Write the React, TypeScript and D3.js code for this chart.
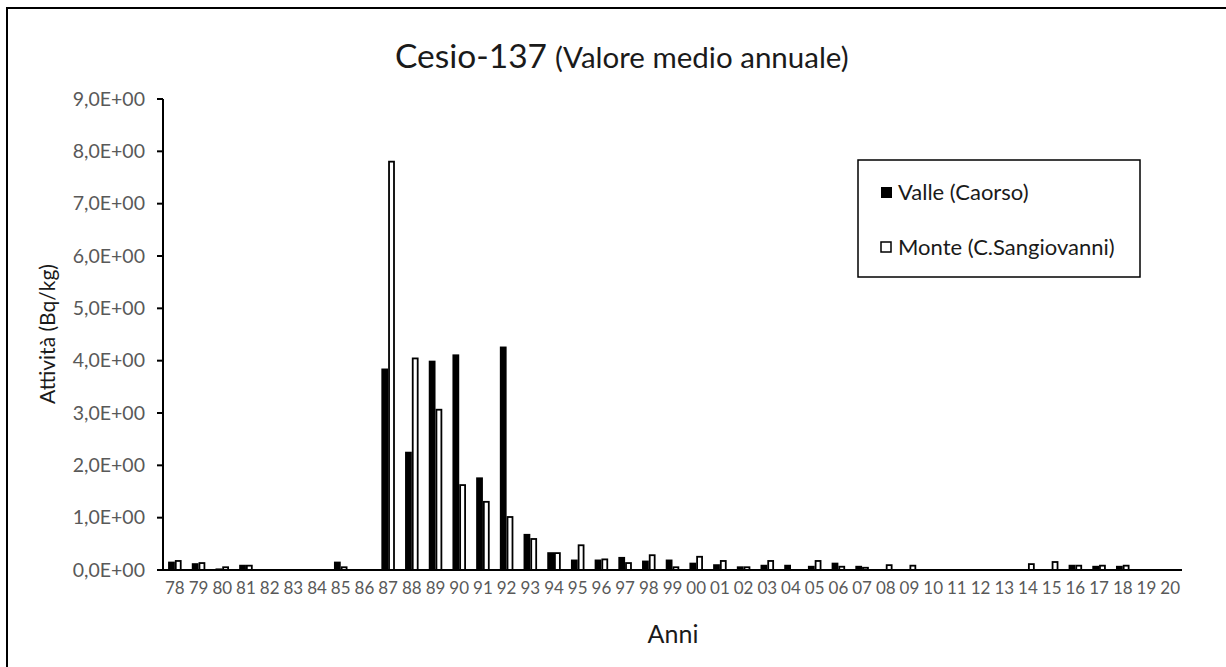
import React from "react";
import * as d3 from "d3";

const years = ["78","79","80","81","82","83","84","85","86","87","88","89","90","91","92","93","94","95","96","97","98","99","00","01","02","03","04","05","06","07","08","09","10","11","12","13","14","15","16","17","18","19","20"];
const valle = [0.16,0.13,0.03,0.1,0,0,0,0.16,0,3.85,2.26,4.0,4.12,1.77,4.27,0.69,0.34,0.2,0.2,0.25,0.18,0.2,0.14,0.11,0.07,0.1,0.1,0.08,0.14,0.08,0,0,0,0,0,0,0,0,0.1,0.08,0.08,0,0];
const monte = [0.19,0.15,0.07,0.1,0,0,0,0.07,0,7.82,4.06,3.08,1.64,1.32,1.03,0.61,0.34,0.49,0.22,0.15,0.3,0.07,0.27,0.19,0.07,0.19,0,0.19,0.08,0.06,0.11,0.1,0,0,0,0,0.13,0.17,0.1,0.1,0.1,0,0];
const yTicks = [0,1,2,3,4,5,6,7,8,9];
const seriesNames = ["Valle (Caorso)", "Monte (C.Sangiovanni)"];

const FONT = "Lato, 'Open Sans', sans-serif";

export default function App() {
  const x = d3.scaleBand<string>().domain(years).range([163, 1182]).paddingInner(0).paddingOuter(0);
  const step = x.bandwidth();
  const bw = step / 3.5;
  const y = d3.scaleLinear().domain([0, 9]).range([570, 99]);
  const fmt = (v: number) => `${v},0E+00`;

  return (
    <svg width={1226} height={667} style={{ position: "absolute", left: 0, top: 0, background: "#fff" }}>
      <rect x={0} y={0} width={1226} height={667} fill="#fff" />
      <rect x={7} y={8} width={1240} height={680} fill="none" stroke="#000" strokeWidth={2} />
      <text x={395} y={68} fontFamily={FONT} fill="#1a1a1a">
        <tspan fontSize={33.5}>Cesio-137</tspan>
        <tspan fontSize={29.5} dx={8}>(Valore medio annuale)</tspan>
      </text>
      {years.map((yr, i) => {
        const cx = (x(yr) as number) + step / 2;
        return (
          <g key={yr}>
            {valle[i] > 0 && (
              <rect x={cx - bw} y={y(valle[i])} width={bw} height={570 - y(valle[i])} fill="#000" />
            )}
            {monte[i] > 0 && (
              <rect x={cx + 0.9} y={y(monte[i]) + 0.9} width={bw - 1.8} height={Math.max(0, 570 - y(monte[i]) - 0.9)} fill="#fff" stroke="#000" strokeWidth={1.8} />
            )}
            <text x={cx} y={594} textAnchor="middle" fontFamily={FONT} fontSize={17} fill="#595959">{yr}</text>
          </g>
        );
      })}
      <line x1={163} y1={99} x2={163} y2={571} stroke="#000" strokeWidth={2} />
      <line x1={157} y1={570} x2={1182} y2={570} stroke="#000" strokeWidth={2} />
      {yTicks.map((t) => (
        <g key={t}>
          <line x1={157} x2={163} y1={y(t)} y2={y(t)} stroke="#000" strokeWidth={2} />
          <text x={145} y={y(t)} dy="0.35em" textAnchor="end" fontFamily={FONT} fontSize={19.5} fill="#595959">{fmt(t)}</text>
        </g>
      ))}
      <text transform="translate(48,334) rotate(-90)" textAnchor="middle" dy="0.35em" fontFamily={FONT} fontSize={21} fill="#1a1a1a">Attività (Bq/kg)</text>
      <text x={673} y={643} textAnchor="middle" fontFamily={FONT} fontSize={25} fill="#1a1a1a">Anni</text>
      <rect x={858} y={160} width={282} height={117} fill="#fff" stroke="#000" strokeWidth={1.5} />
      <rect x={881} y={187} width={11} height={11} fill="#000" />
      <text x={898} y={192} dy="0.35em" fontFamily={FONT} fontSize={22} fill="#1a1a1a">{seriesNames[0]}</text>
      <rect x={881} y={242} width={10} height={10} fill="#fff" stroke="#000" strokeWidth={1.5} />
      <text x={898} y={247} dy="0.35em" fontFamily={FONT} fontSize={22} fill="#1a1a1a">{seriesNames[1]}</text>
    </svg>
  );
}
